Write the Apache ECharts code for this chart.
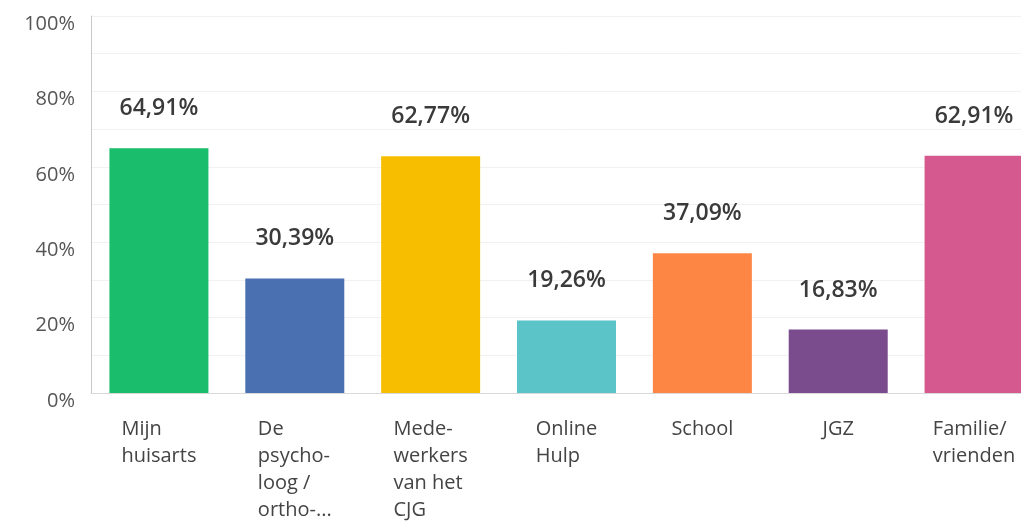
<!DOCTYPE html>
<html>
<head>
<meta charset="utf-8">
<style>
  html, body { margin: 0; padding: 0; background: #fff; overflow: hidden; }
  /* the last bar runs past the right edge of the picture, so the chart is a bit wider than the window */
  #chart { width: 1042px; height: 522px; }
</style>
<script src="https://cdn.jsdelivr.net/npm/echarts@6/dist/echarts.min.js"></script>
</head>
<body>
<div id="chart"></div>
<script>
// categories as shown under the bars (line breaks as in the picture)
const categories = [
  "Mijn\nhuisarts",
  "De\npsycho-\nloog /\northo-...",
  "Mede-\nwerkers\nvan het\nCJG",
  "Online\nHulp",
  "School",
  "JGZ",
  "Familie/\nvrienden"
];
const values = [64.91, 30.39, 62.77, 19.26, 37.09, 16.83, 62.91];
const barColors = ["#19bd6b", "#4a70b2", "#f7be00", "#5ac4c8", "#fd8645", "#7a4b8d", "#d5598e"];
const yTicks = [0, 20, 40, 60, 80, 100];

const font = "'Open Sans', 'Noto Sans', sans-serif";

const chart = echarts.init(document.getElementById("chart"));

chart.setOption({
  animation: false,
  grid: { left: 91, top: 16, bottom: 129, right: 0 },
  xAxis: {
    type: "category",
    data: categories,
    axisLine: { show: true, lineStyle: { color: "#d9d9d9", width: 1 } },
    axisTick: { show: false },
    axisLabel: {
      margin: 23,
      interval: 0,
      formatter: v => "{t|" + v.split("\n").join("}\n{t|") + "}",
      rich: {
        t: { align: "left", fontFamily: font, fontSize: 20, color: "#444", lineHeight: 27 }
      }
    }
  },
  yAxis: {
    type: "value",
    min: 0,
    max: 100,
    interval: 10,
    axisLine: { show: true, lineStyle: { color: "#c8c8c8" } },
    axisTick: { show: false },
    splitLine: { lineStyle: { color: "#f1f1f1" } },
    axisLabel: {
      margin: 16,
      fontFamily: font,
      fontSize: 20,
      color: "#555",
      verticalAlign: "top",
      lineHeight: 16,
      formatter: v => yTicks.indexOf(v) >= 0 ? v + "%" : ""
    }
  },
  series: [{
    type: "bar",
    barWidth: 99,
    data: values.map((v, i) => ({ value: v, itemStyle: { color: barColors[i] } })),
    label: {
      show: true,
      position: "top",
      distance: 28,
      fontFamily: font,
      fontSize: 23,
      fontWeight: 600,
      color: "#3a3a3a",
      formatter: p => p.value.toFixed(2).replace(".", ",") + "%"
    }
  }]
});
</script>
</body>
</html>
